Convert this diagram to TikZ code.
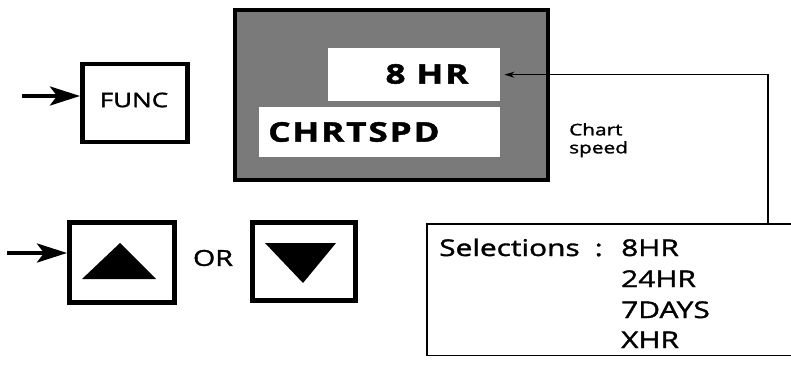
\documentclass[tikz,border=0pt]{standalone}
\usepackage{fontspec}
\setmainfont{Open Sans}[FakeStretch=1.3, FakeBold=1.6]
\usetikzlibrary{arrows.meta}
\tikzset{
  keybox/.style={draw=black, line width=4.5pt, fill=white, inner sep=0pt, anchor=north west},
  panel/.style={draw=black, line width=4pt, fill=black!52, inner sep=0pt, anchor=north west},
  window/.style={fill=white, inner sep=0pt, anchor=north west},
  disptext/.style={font=\fontsize{27}{30}\selectfont\bfseries\addfontfeatures{LetterSpace=7}, inner sep=0pt},
  keytext/.style={font=\fontsize{20}{24}\selectfont, inner sep=0pt},
  seltext/.style={font=\fontsize{23}{26}\selectfont, inner sep=0pt, anchor=base west},
  bigarrow/.style={line width=4pt, -{Stealth[length=30pt,width=19pt,inset=7pt]}},
  thinarrow/.style={line width=1.3pt, -{Stealth[length=10pt,width=6pt]}},
  tri/.style={fill=black}
}
\begin{document}
\begin{tikzpicture}[x=1pt,y=-1pt]
\useasboundingbox (0,0) rectangle (791,366);
% display panel
\node[panel, minimum width=313pt, minimum height=170pt] (display) at (233,8) {};
\node[window, minimum width=172pt, minimum height=53pt] (hr) at (328,48) {};
\node[disptext] (hrtext) at (427,74) {8 HR};
\node[window, minimum width=241pt, minimum height=50pt] (chrt) at (259,107) {};
\node[disptext, anchor=west] (chrttext) at (268,132) {CHRTSPD};
% FUNC key
\node[keybox, minimum width=105pt, minimum height=78pt] (func) at (80,62) {};
\node[keytext] (functext) at (134,100) {FUNC};
\coordinate (fa) at (22,96);
\draw[bigarrow] (fa) -- (fa -| func.west);
% up / down keys
\node[keybox, minimum width=105pt, minimum height=80pt] (up) at (67,220) {};
\fill[tri] (82,279) -- (120,243) -- (156,279) -- cycle;
\node[keybox, minimum width=103pt, minimum height=78pt] (down) at (250,220) {};
\fill[tri] (265,243) -- (336,243) -- (303,283) -- cycle;
\node[keytext, font=\fontsize{22}{26}\selectfont] (or) at (213,258) {OR};
\coordinate (ua) at (7,253);
\draw[bigarrow] (ua) -- (ua -| up.west);
% chart speed label
\node[font=\fontsize{16}{18}\selectfont, align=left, inner sep=0pt, anchor=north west] (cs) at (569,123) {Chart\\speed};
% selections box
\node[inner sep=0pt, minimum width=364pt, minimum height=131pt, anchor=north west] (sel) at (427,224) {};
\draw[line width=1.5pt] (sel.north east) -- (sel.north west) -- (sel.south west) -- (sel.south east);
\node[seltext] (selhead) at (439,256) {Selections\hspace{15pt}:};
\node[seltext] (s1) at (621,256) {8HR};
\node[seltext] (s2) at (621,287) {24HR};
\node[seltext] (s3) at (621,318) {7DAYS};
\node[seltext] (s4) at (621,348) {XHR};
% connector
\coordinate (turn) at (768,75);
\draw[thinarrow, shorten >=4pt] (sel.north -| turn) |- (hr.east);
\end{tikzpicture}
\end{document}
